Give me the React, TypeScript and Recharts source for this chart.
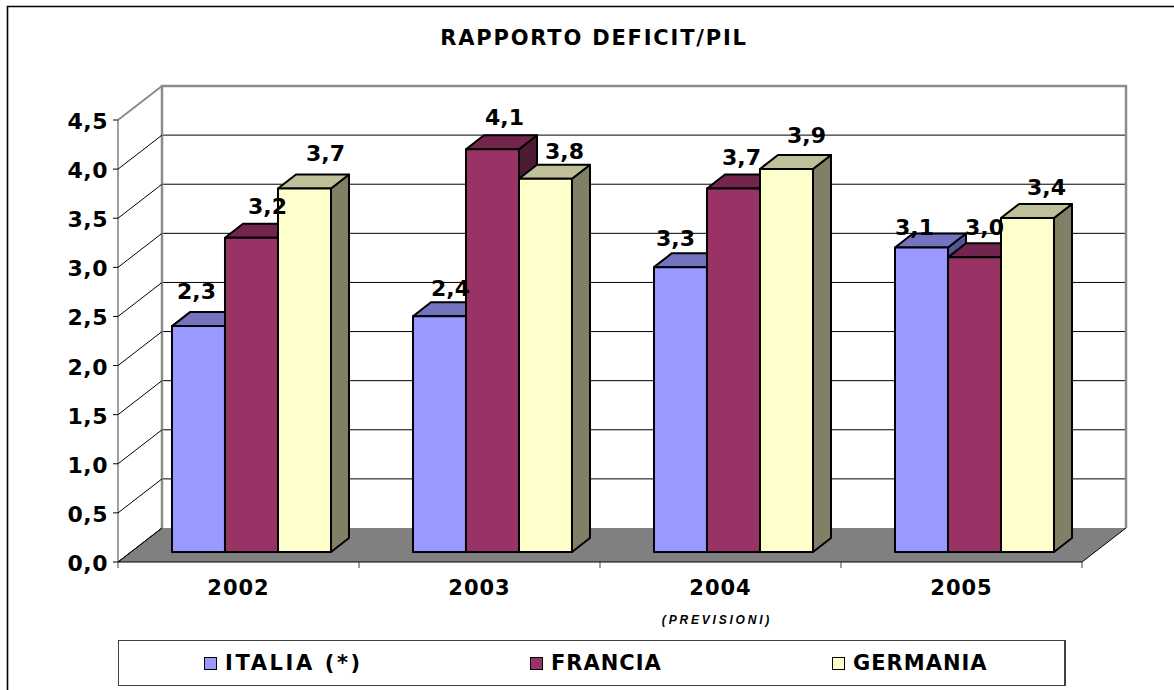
import React from 'react';
import { BarChart, Bar, XAxis, YAxis, CartesianGrid, Legend, LabelList, usePlotArea } from 'recharts';

const years = ['2002', '2003', '2004', '2005'];
const italia = [2.3, 2.4, 2.9, 3.1];
const francia = [3.2, 4.1, 3.7, 3.0];
const germania = [3.7, 3.8, 3.9, 3.4];
// the printed labels, 2004 for Italia does not match its bar in the original
const italiaLabels = ['2,3', '2,4', '3,3', '3,1'];
const franciaLabels = ['3,2', '4,1', '3,7', '3,0'];
const germaniaLabels = ['3,7', '3,8', '3,9', '3,4'];
const yTicks = [0, 0.5, 1, 1.5, 2, 2.5, 3, 3.5, 4, 4.5];

const chartData = years.map((year, i) => ({
  year,
  italia: italia[i],
  francia: francia[i],
  germania: germania[i],
  italiaLabel: italiaLabels[i],
  franciaLabel: franciaLabels[i],
  germaniaLabel: germaniaLabels[i],
}));

const FONT = '"DejaVu Sans", Verdana, sans-serif';
const WALL_GREY = '#8c8c8c';
const WALL_DX = 44;
const WALL_DY = -34;
const BAR_DX = 13.5;
const BAR_DY = -10;
const DEPTH_X = 18;
const DEPTH_Y = -14;
const CATEGORY_W = 241;

// hand placed labels in the original: [dx from bar centre, dy from bar top]
const nudgeItalia = [[-2, -35], [11, -28], [-5, -29], [-7, -20]];
const nudgeFrancia = [[16, -31], [12, -32], [8, -31], [10, -30]];
const nudgeGermania = [[21, -35], [19, -27], [20, -33], [19, -31]];

const Bar3D = (props: any) => {
  const { x, y, width, height, fill, topFill, sideFill } = props;
  const fx = x + BAR_DX;
  const fy = y + BAR_DY;
  const r = fx + width;
  const b = fy + height;
  return (
    <g stroke="#000" strokeWidth={2} strokeLinejoin="round">
      <polygon points={`${r},${fy} ${r + DEPTH_X},${fy + DEPTH_Y} ${r + DEPTH_X},${b + DEPTH_Y} ${r},${b}`} fill={sideFill} />
      <polygon points={`${fx},${fy} ${fx + DEPTH_X},${fy + DEPTH_Y} ${r + DEPTH_X},${fy + DEPTH_Y} ${r},${fy}`} fill={topFill} />
      <rect x={fx} y={fy} width={width} height={height} fill={fill} />
    </g>
  );
};

const makeLabel = (nudge: number[][]) => (props: any) => {
  const { x, y, width, index, value } = props;
  const [dx, dy] = nudge[index];
  return (
    <text
      x={x + BAR_DX + width / 2 + dx}
      y={y + BAR_DY + dy}
      textAnchor="middle"
      dominantBaseline="central"
      fontFamily={FONT}
      fontWeight="bold"
      fontSize={22}
      fill="#000"
    >
      {value}
    </text>
  );
};

const Floor = () => {
  const plot = usePlotArea();
  if (!plot) return null;
  const { x, y, width, height } = plot;
  const b = y + height;
  return (
    <polygon
      points={`${x},${b} ${x + WALL_DX},${b + WALL_DY} ${x + width + WALL_DX},${b + WALL_DY} ${x + width},${b}`}
      fill="#808080"
    />
  );
};

const WallEdge = () => {
  const plot = usePlotArea();
  if (!plot) return null;
  const { x, y, width, height } = plot;
  const l = x + WALL_DX;
  const r = x + width + WALL_DX;
  const t = y + WALL_DY;
  const b = y + height + WALL_DY;
  return (
    <g>
      <polyline points={`${l},${b} ${l},${t} ${r},${t} ${r},${b}`} fill="none" stroke={WALL_GREY} strokeWidth={2.5} />
      <line x1={x} y1={y + height} x2={x} y2={y} stroke="#808080" strokeWidth={1.5} />
      <line x1={x} y1={y + height} x2={l} y2={b} stroke="#000" strokeWidth={1} />
      <line x1={x + width} y1={y + height} x2={r} y2={b} stroke="#000" strokeWidth={1} />
    </g>
  );
};

// back wall lines: the grid's own y positions pushed to the rear of the box
const WallGridLine = (p: any) => {
  if (p.index === 0 || p.index === yTicks.length - 1) return <g key={p.key} />;
  return (
    <line
      key={p.key}
      x1={p.x1 + WALL_DX}
      y1={p.y1 + WALL_DY}
      x2={p.x2 + WALL_DX}
      y2={p.y2 + WALL_DY}
      stroke="#000"
      strokeWidth={1}
    />
  );
};

const YTick = (props: any) => {
  const { x, y, payload } = props;
  const top = payload.value === 4.5;
  return (
    <g>
      <line
        x1={x}
        y1={y}
        x2={x + WALL_DX}
        y2={y + WALL_DY}
        stroke={top ? WALL_GREY : '#000'}
        strokeWidth={top ? 2 : 1}
      />
      <line x1={x - 5} y1={y} x2={x} y2={y} stroke="#000" strokeWidth={1} />
      <text
        x={x - 10}
        y={y + 1.5}
        textAnchor="end"
        dominantBaseline="central"
        fontFamily={FONT}
        fontWeight="bold"
        fontSize={22}
        letterSpacing={0.5}
        fill="#000"
      >
        {payload.value.toFixed(1).replace('.', ',')}
      </text>
    </g>
  );
};

const XTick = (props: any) => {
  const { x, y, payload, index } = props;
  const left = x - CATEGORY_W / 2;
  const right = x + CATEGORY_W / 2;
  return (
    <g>
      {index === 0 && <line x1={left} y1={y} x2={left} y2={y + 6} stroke="#404040" strokeWidth={1} />}
      <line x1={right} y1={y} x2={right} y2={y + 6} stroke="#404040" strokeWidth={1} />
      <text
        x={x}
        y={y + 26}
        textAnchor="middle"
        dominantBaseline="central"
        fontFamily={FONT}
        fontWeight="bold"
        fontSize={21}
        letterSpacing={1}
        fill="#000"
      >
        {payload.value}
      </text>
    </g>
  );
};

const legendEntries = [
  { name: 'ITALIA (*)', color: '#9999ff', left: 85, spacing: 2.6 },
  { name: 'FRANCIA', color: '#993366', left: 411, spacing: 1 },
  { name: 'GERMANIA', color: '#ffffcc', left: 713, spacing: 1 },
];

const LegendBox = () => (
  <div
    style={{
      position: 'relative',
      width: 948,
      height: 46,
      boxSizing: 'border-box',
      border: '1px solid #404040',
      borderRightWidth: 2,
      background: '#fff',
    }}
  >
    {legendEntries.map((entry) => (
      <div
        key={entry.name}
        style={{
          position: 'absolute',
          left: entry.left,
          top: 0,
          height: 44,
          display: 'flex',
          alignItems: 'center',
          fontFamily: FONT,
          fontWeight: 'bold',
          fontSize: 21,
          letterSpacing: entry.spacing,
          color: '#000',
          whiteSpace: 'nowrap',
        }}
      >
        <span
          style={{
            display: 'inline-block',
            width: 11,
            height: 11,
            marginRight: 8,
            border: '1.5px solid #000',
            background: entry.color,
          }}
        />
        {entry.name}
      </div>
    ))}
  </div>
);

export default function App() {
  return (
    <div style={{ position: 'absolute', left: 0, top: 0, width: 1174, height: 690, background: '#fff' }}>
      <BarChart
        width={1174}
        height={690}
        data={chartData}
        margin={{ top: 120, right: 92, bottom: 88, left: 58 }}
        barCategoryGap="16.8%"
        barGap={0}
      >
        <polyline points="7.5,690 7.5,6.5 1174,6.5" fill="none" stroke="#000" strokeWidth={1.6} />
        <text x={594} y={38} textAnchor="middle" dominantBaseline="central" fontFamily={FONT} fontWeight="bold" fontSize={21} letterSpacing={1.8} fill="#000">
          RAPPORTO DEFICIT/PIL
        </text>
        <text
          x={717}
          y={620}
          textAnchor="middle"
          dominantBaseline="central"
          fontFamily='"Liberation Sans", Arial, sans-serif'
          fontWeight="bold"
          fontStyle="italic"
          fontSize={12}
          letterSpacing={2.8}
          fill="#000"
        >
          (PREVISIONI)
        </text>
        <CartesianGrid vertical={false} horizontal={WallGridLine} />
        <Floor />
        <WallEdge />
        <YAxis
          width={60}
          domain={[0, 4.5]}
          ticks={yTicks}
          interval={0}
          axisLine={false}
          tickLine={false}
          tickSize={0}
          tickMargin={0}
          tick={YTick}
        />
        <XAxis dataKey="year" height={40} axisLine={{ stroke: '#000', strokeWidth: 1 }} tickLine={false} tick={XTick} tickMargin={0} tickSize={0} />
        <Legend
          verticalAlign="middle"
          align="center"
          content={LegendBox}
          wrapperStyle={{ position: 'absolute', left: 118, top: 640, width: 948, height: 46, margin: 0 }}
        />
        <Bar dataKey="italia" fill="#9999ff" isAnimationActive={false} shape={(p: any) => <Bar3D {...p} topFill="#7373bf" sideFill="#555596" />}>
          <LabelList dataKey="italiaLabel" content={makeLabel(nudgeItalia)} />
        </Bar>
        <Bar dataKey="francia" fill="#993366" isAnimationActive={false} shape={(p: any) => <Bar3D {...p} topFill="#73264d" sideFill="#4d1a33" />}>
          <LabelList dataKey="franciaLabel" content={makeLabel(nudgeFrancia)} />
        </Bar>
        <Bar dataKey="germania" fill="#ffffcc" isAnimationActive={false} shape={(p: any) => <Bar3D {...p} topFill="#bfbf99" sideFill="#808066" />}>
          <LabelList dataKey="germaniaLabel" content={makeLabel(nudgeGermania)} />
        </Bar>
      </BarChart>
    </div>
  );
}
